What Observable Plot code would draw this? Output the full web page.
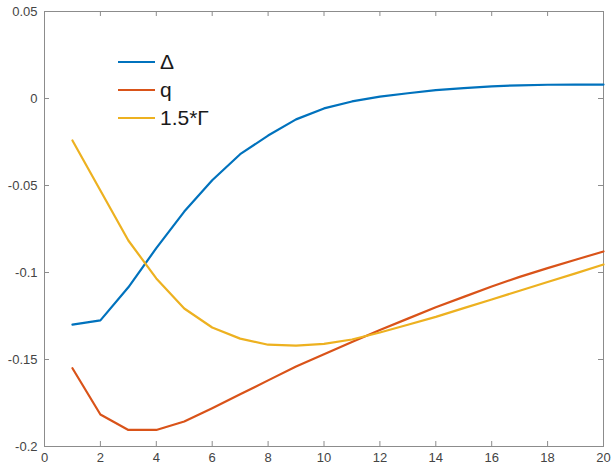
<!DOCTYPE html>
<html><head><meta charset="utf-8">
<script src="https://cdn.jsdelivr.net/npm/d3@7"></script>
<script src="https://cdn.jsdelivr.net/npm/@observablehq/plot@0.6"></script>
<style>
body{margin:0;background:#fff;}
#wrap{position:relative;width:614px;height:472px;font-family:"Liberation Sans",Arial,sans-serif;}
#legend{position:absolute;left:118px;top:48px;font-size:21px;color:#1a1a1a;line-height:28px;}
#legend .row{display:flex;align-items:center;height:28px;}
#legend .sw{width:37px;height:2.5px;margin-right:5px;}
</style>
</head><body>
<div id="wrap"><div id="chart"></div><div id="legend"></div></div>
<script>
const xs = [1,2,3,4,5,6,7,8,9,10,11,12,13,14,15,16,17,18,19,20];
const delta = [-0.130,-0.1275,-0.1085,-0.086,-0.065,-0.047,-0.032,-0.0213,-0.012,-0.0057,-0.0017,0.0011,0.003,0.0048,0.006,0.007,0.0076,0.0079,0.008,0.008];
const q = [-0.155,-0.1816,-0.1905,-0.1905,-0.1856,-0.178,-0.170,-0.162,-0.154,-0.147,-0.140,-0.133,-0.1265,-0.120,-0.114,-0.108,-0.1025,-0.0975,-0.0927,-0.0879];
const gamma15 = [-0.0241,-0.0529,-0.0816,-0.1034,-0.1207,-0.1316,-0.138,-0.1415,-0.142,-0.141,-0.1385,-0.1345,-0.130,-0.1255,-0.1205,-0.1155,-0.1105,-0.1055,-0.1005,-0.0954];
const seriesNames = ["Δ","q","1.5*Γ"];
const seriesColors = ["#0072BD","#D95319","#EDB120"];
const xTicks = [0,2,4,6,8,10,12,14,16,18,20];
const yTicks = [-0.2,-0.15,-0.1,-0.05,0,0.05];
const yTickLabels = ["-0.2","-0.15","-0.1","-0.05","0","0.05"];

const allSeries = [delta, q, gamma15];
const rows = [];
allSeries.forEach((vals, si) => vals.forEach((v, i) => rows.push({x: xs[i], y: v, s: seriesNames[si]})));

const W = 614, H = 472, mt = 11, mb = 26, ml = 44, mr = 11;
const plotH = H - mt - mb, plotW = W - ml - mr;
const tickLen = 5;
const axisColor = "#8c8c8c";

const chart = Plot.plot({
  width: W, height: H,
  marginTop: mt, marginBottom: mb, marginLeft: ml, marginRight: mr,
  style: {fontFamily: "Liberation Sans, Arial, sans-serif", fontSize: "13px", color: "#444", background: "#fff"},
  x: {domain: [0, 20]},
  y: {domain: [-0.2, 0.05]},
  color: {domain: seriesNames, range: seriesColors},
  marks: [
    Plot.axisX(xTicks, {tickSize: 0, tickPadding: 6, label: null, fill: "#444", fontSize: 13}),
    Plot.axisY(yTicks, {tickSize: 0, tickPadding: 7, label: null, fill: "#444", fontSize: 13,
      tickFormat: (d) => yTickLabels[yTicks.indexOf(d)]}),
    Plot.ruleX(xTicks, {x: d => d, insetTop: plotH - tickLen, stroke: axisColor}),
    Plot.ruleX(xTicks, {x: d => d, insetBottom: plotH - tickLen, stroke: axisColor}),
    Plot.ruleY(yTicks, {y: d => d, insetRight: plotW - tickLen, stroke: axisColor}),
    Plot.ruleY(yTicks, {y: d => d, insetLeft: plotW - tickLen, stroke: axisColor}),
    Plot.frame({stroke: axisColor, strokeWidth: 1}),
    Plot.line(rows, {x: "x", y: "y", z: "s", stroke: "s", strokeWidth: 2.2})
  ]
});
document.getElementById("chart").appendChild(chart);

const lg = document.getElementById("legend");
seriesNames.forEach((n, i) => {
  const r = document.createElement("div");
  r.className = "row";
  r.innerHTML = `<div class="sw" style="background:${seriesColors[i]}"></div><span>${n}</span>`;
  lg.appendChild(r);
});
</script>
</body></html>
